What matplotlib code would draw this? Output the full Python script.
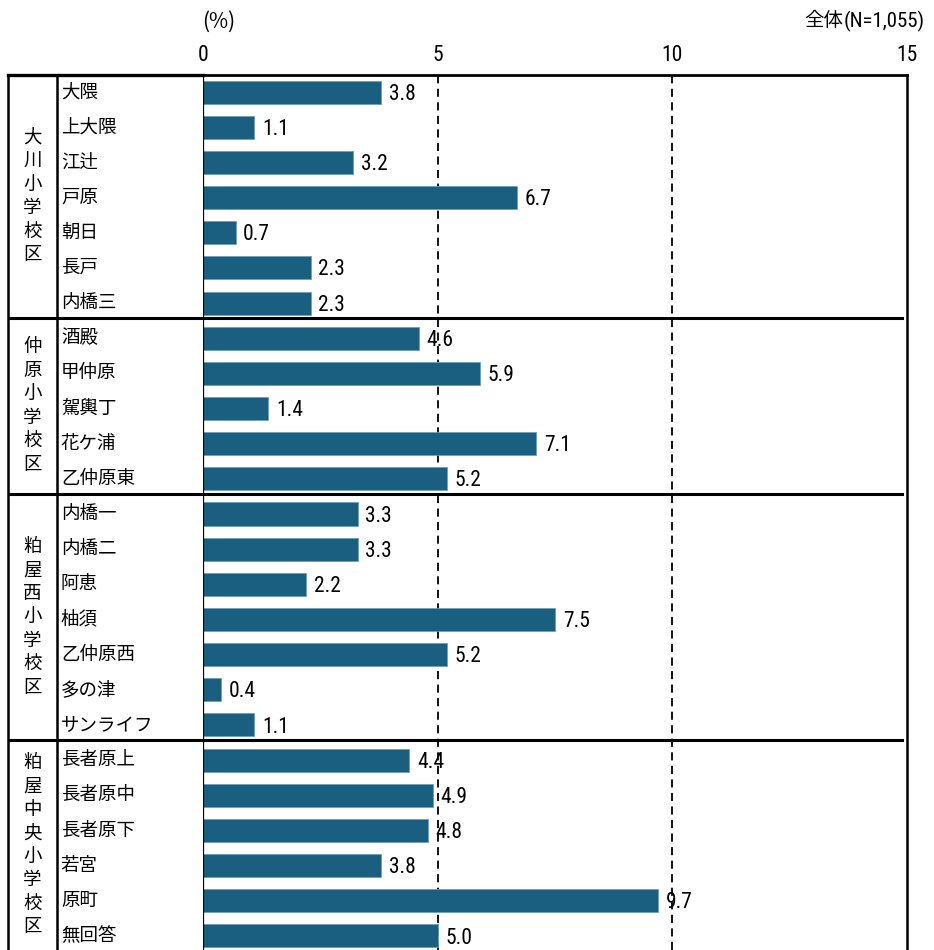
import matplotlib
matplotlib.use("Agg")
import matplotlib.pyplot as plt
from matplotlib.transforms import offset_copy
from matplotlib.font_manager import FontProperties, fontManager

plt.rcParams['font.family'] = ['Noto Sans CJK JP', 'DejaVu Sans']

# ---- data ----
groups = ["大川小学校区", "仲原小学校区", "粕屋西小学校区", "粕屋中央小学校区"]
group_areas = [
    ["大隈", "上大隈", "江辻", "戸原", "朝日", "長戸", "内橋三"],
    ["酒殿", "甲仲原", "駕輿丁", "花ケ浦", "乙仲原東"],
    ["内橋一", "内橋二", "阿恵", "柚須", "乙仲原西", "多の津", "サンライフ"],
    ["長者原上", "長者原中", "長者原下", "若宮", "原町", "無回答"],
]
group_values = [
    [3.8, 1.1, 3.2, 6.7, 0.7, 2.3, 2.3],
    [4.6, 5.9, 1.4, 7.1, 5.2],
    [3.3, 3.3, 2.2, 7.5, 5.2, 0.4, 1.1],
    [4.4, 4.9, 4.8, 3.8, 9.7, 5.0],
]
xticks = [0, 5, 10, 15]
unit_label = "(%)"
total_prefix = "全体"
total_count = "(N=1,055)"

areas = [a for g in group_areas for a in g]
values = [v for g in group_values for v in g]

BAR = "#1A5F80"

# pick a narrow font for numbers if available
names = {f.name for f in fontManager.ttflist}
narrow = None
for cand in ["Liberation Sans Narrow", "Roboto Condensed", "Open Sans Condensed",
             "DejaVu Sans Condensed"]:
    if cand in names:
        narrow = cand
        break
cond_files = [f for f in fontManager.ttflist if f.name == "DejaVu Sans"
              and "ondensed" in f.fname and f.weight in (400, "normal") and f.style == "normal"]
if narrow:
    NUM_FP = FontProperties(family=[narrow, 'Noto Sans CJK JP'])
elif cond_files:
    NUM_FP = FontProperties(fname=cond_files[0].fname)
else:
    NUM_FP = FontProperties(family=['DejaVu Sans'])


def numprops(size):
    fp = NUM_FP.copy()
    fp.set_size(size)
    return fp


W, H = 934, 950
fig = plt.figure(figsize=(W / 100, H / 100), dpi=100)

top_px, bot_px = 74.5, 950
x0_px, x1_px = 202.7, 907.3
tab_l = 8
ax = fig.add_axes([x0_px / W, 1 - bot_px / H, (x1_px - x0_px) / W, (bot_px - top_px) / H])
tab = fig.add_axes([tab_l / W, 1 - bot_px / H, (x0_px - tab_l) / W, (bot_px - top_px) / H],
                   sharey=ax)

n = len(areas)
ypos = list(range(n))
ax.barh(ypos, values, height=0.655, color=BAR, edgecolor="#6f9fb8", linewidth=0.6, zorder=2)
ax.set_xlim(0, 15)
ax.set_ylim(24.40, -0.50)

for xv in xticks[1:-1]:
    ax.axvline(xv, color="black", lw=1.3, ls=(0, (4.5, 3)), zorder=1)

for y, v in zip(ypos, values):
    ax.annotate(f"{v:.1f}", (v, y), xytext=(5.5, -1.5), textcoords="offset points",
                ha="left", va="center", fontproperties=numprops(15.5), zorder=3)

ax.xaxis.tick_top()
ax.set_xticks(xticks)
ax.set_xticklabels([str(t) for t in xticks])
for lab in ax.get_xticklabels():
    lab.set_fontproperties(numprops(15.5))
ax.tick_params(axis="x", length=0, pad=6)
ax.set_yticks([])
ax.spines["bottom"].set_visible(False)
ax.spines["left"].set_linewidth(0.9)
ax.spines["top"].set_linewidth(2.0)
ax.spines["right"].set_linewidth(1.8)

# table
tab.set_xlim(0, 1)
tab.set_xticks([])
tab.tick_params(left=False, labelleft=False)
tab.spines["bottom"].set_visible(False)
tab.spines["right"].set_visible(False)
tab.spines["left"].set_linewidth(1.8)
tab.spines["top"].set_linewidth(2.4)
inner_x = (57 - tab_l) / (x0_px - tab_l)
tab.axvline(inner_x, color="black", lw=1.8)

for y, a in zip(ypos, areas):
    tab.text(inner_x + 0.02, y, a, ha="left", va="center", fontsize=13.3)

# group separators and labels
start = 0
bounds = []
for gi, g in enumerate(group_areas):
    end = start + len(g)
    bounds.append((start, end))
    if gi < len(group_areas) - 1:
        sep = end - 1 + 0.43
        tab.axhline(sep, color="black", lw=2.2)
        ax.axhline(sep, xmin=0, xmax=0.993, color="black", lw=2.2, zorder=4)
    start = end

ylo, yhi = -0.50, 24.40
seps = [b[1] - 1 + 0.43 for b in bounds[:-1]]
edges = [ylo] + seps + [yhi]
for gi, name in enumerate(groups):
    mid = (edges[gi] + edges[gi + 1]) / 2
    nch = len(name)
    step = 23.5 * 0.72  # points
    for ci, ch in enumerate(name):
        off = (ci - (nch - 1) / 2) * step
        tr = offset_copy(tab.transData, fig=fig, x=0, y=-off, units="points")
        tab.text(inner_x / 2, mid, ch, transform=tr, ha="center", va="center", fontsize=13.3)

fig.text(219 / W, 1 - 22 / H, unit_label, ha="center", va="center", fontsize=15)
t1 = fig.text(925 / W, 1 - 21 / H, total_prefix, ha="right", va="center", fontsize=14)
t2 = fig.text(925 / W, 1 - 21 / H, total_count, ha="right", va="center",
              fontproperties=numprops(15))
fig.canvas.draw()
bb = t2.get_window_extent()
t1.set_x((bb.x0 - 1) / W)

fig.savefig("out.png", dpi=100)
